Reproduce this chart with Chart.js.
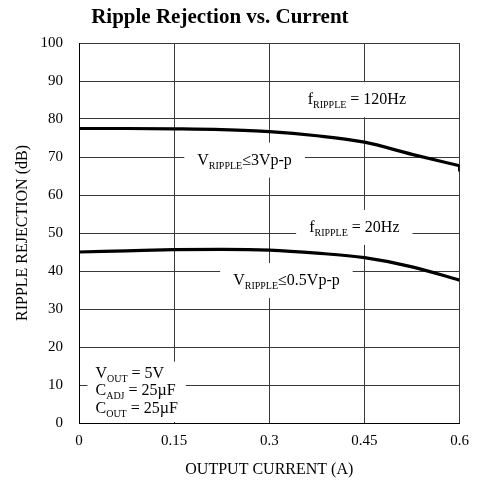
<!DOCTYPE html>
<html>
<head>
<meta charset="utf-8">
<script src="https://cdn.jsdelivr.net/npm/chart.js@4.4.0/dist/chart.umd.min.js"></script>
<style>
  html, body { margin: 0; padding: 0; background: #fff; }
  #wrap { width: 478px; height: 487px; position: relative; }
</style>
</head>
<body>
<div id="wrap"><canvas id="c"></canvas></div>
<script>
// ---- data ----
const titleText = 'Ripple Rejection vs. Current';
const xAxisTitle = 'OUTPUT CURRENT (A)';
const yAxisTitle = 'RIPPLE REJECTION (dB)';
const xTickValues = [0, 0.15, 0.3, 0.45, 0.6];
const xTickLabels = ['0', '0.15', '0.3', '0.45', '0.6'];
const currentHi = [0, 0.075, 0.15, 0.225, 0.3, 0.375, 0.45, 0.525, 0.6];
const rejection120Hz = [77.5, 77.5, 77.4, 77.2, 76.7, 75.6, 73.9, 70.7, 67.7];
const endTickCurrent = [0.6, 0.6];
const endTickRejection = [67.9, 66.2];
const currentLo = [0, 0.075, 0.15, 0.225, 0.3, 0.375, 0.45, 0.525, 0.6];
const rejection20Hz = [45.0, 45.3, 45.6, 45.7, 45.5, 44.7, 43.5, 41.1, 37.6];

// annotation labels: [x, y] in data units, rich-text segments
const labelPositions = [[0.438, 85.2], [0.261, 69.3], [0.434, 51.6], [0.327, 37.6]];
const labelTexts = [
  [['f', 0], ['RIPPLE', 1], [' = 120Hz', 0]],
  [['V', 0], ['RIPPLE', 1], ['≤3Vp-p', 0]],
  [['f', 0], ['RIPPLE', 1], [' = 20Hz', 0]],
  [['V', 0], ['RIPPLE', 1], ['≤0.5Vp-p', 0]]
];
const conditionsAnchor = [0.026, 13.5];
const conditionsLines = [
  [['V', 0], ['OUT', 1], [' = 5V', 0]],
  [['C', 0], ['ADJ', 1], [' = 25µF', 0]],
  [['C', 0], ['OUT', 1], [' = 25µF', 0]]
];

const SERIF = '"Liberation Serif", "Times New Roman", serif';
const MAIN_FONT = '16px ' + SERIF;
const SUB_FONT = '10px ' + SERIF;

function richWidth(ctx, segs) {
  let w = 0;
  segs.forEach(([t, sub]) => { ctx.font = sub ? SUB_FONT : MAIN_FONT; w += ctx.measureText(t).width; });
  return w;
}
function drawRich(ctx, segs, x, baseline) {
  let cx = x;
  segs.forEach(([t, sub]) => {
    ctx.font = sub ? SUB_FONT : MAIN_FONT;
    ctx.textBaseline = 'alphabetic';
    ctx.textAlign = 'left';
    ctx.fillText(t, cx, baseline + (sub ? 4 : 0));
    cx += ctx.measureText(t).width;
  });
}

const annotationPlugin = {
  id: 'annot',
  afterDatasetsDraw(chart) {
    const ctx = chart.ctx;
    const xs = chart.scales.x, ys = chart.scales.y;
    ctx.save();
    labelTexts.forEach((segs, i) => {
      const cx = xs.getPixelForValue(labelPositions[i][0]);
      const cy = ys.getPixelForValue(labelPositions[i][1]);
      const w = richWidth(ctx, segs);
      ctx.fillStyle = '#fff';
      ctx.fillRect(cx - w / 2 - 13, cy - 17, w + 26, 35);
      ctx.fillStyle = '#000';
      drawRich(ctx, segs, cx - w / 2, cy + 5);
    });
    // conditions block
    const lx = xs.getPixelForValue(conditionsAnchor[0]);
    const ly = ys.getPixelForValue(conditionsAnchor[1]);
    let maxW = 0;
    conditionsLines.forEach(s => { maxW = Math.max(maxW, richWidth(ctx, s)); });
    ctx.fillStyle = '#fff';
    ctx.fillRect(lx - 8, ly - 10, maxW + 16, ys.bottom - (ly - 10) - 1);
    ctx.fillStyle = '#000';
    conditionsLines.forEach((s, i) => drawRich(ctx, s, lx, ly + 6 + i * 17.5));
    ctx.restore();
  },
  afterDraw(chart) {
    const ctx = chart.ctx;
    ctx.save();
    ctx.fillStyle = '#000';
    ctx.font = 'bold 21px ' + SERIF;
    ctx.textAlign = 'center';
    ctx.textBaseline = 'middle';
    ctx.fillText(titleText, chart.width * 0.46, 18);
    ctx.restore();
  }
};

const ds = (xs, ys) => xs.map((x, i) => ({ x, y: ys[i] }));
const lineStyle = { borderColor: '#000', borderWidth: 3.2, pointRadius: 0, fill: false };

new Chart(document.getElementById('c'), {
  type: 'line',
  data: {
    datasets: [
      Object.assign({ data: ds(currentHi, rejection120Hz), cubicInterpolationMode: 'monotone' }, lineStyle),
      Object.assign({ data: ds(endTickCurrent, endTickRejection) }, lineStyle),
      Object.assign({ data: ds(currentLo, rejection20Hz), cubicInterpolationMode: 'monotone' }, lineStyle)
    ]
  },
  options: {
    responsive: true,
    maintainAspectRatio: false,
    animation: false,
    layout: { padding: { top: 43, right: 16, left: 0, bottom: 0 } },
    plugins: { legend: { display: false }, tooltip: { enabled: false }, title: { display: false } },
    scales: {
      x: {
        type: 'linear', min: 0, max: 0.6,
        afterBuildTicks: s => { s.ticks = xTickValues.map(v => ({ value: v })); },
        afterFit: s => { s.height = 64; },
        ticks: {
          color: '#000', font: { family: SERIF, size: 15 }, padding: 9, maxRotation: 0,
          callback: (v, i) => xTickLabels[i]
        },
        grid: { color: '#3a3a3a', lineWidth: 1, drawTicks: false },
        border: { color: '#000', width: 1 },
        title: { display: true, text: xAxisTitle, color: '#000', font: { family: SERIF, size: 16 }, padding: { top: 0, bottom: 8 } }
      },
      y: {
        min: 0, max: 100,
        afterFit: s => { s.width = 79; },
        ticks: { stepSize: 10, color: '#000', font: { family: SERIF, size: 15 }, padding: 16 },
        grid: { color: '#3a3a3a', lineWidth: 1, drawTicks: false },
        border: { color: '#000', width: 1 },
        title: { display: true, text: yAxisTitle, color: '#000', font: { family: SERIF, size: 16 }, padding: { top: 13, bottom: 0 } }
      }
    }
  },
  plugins: [annotationPlugin]
});
</script>
</body>
</html>
